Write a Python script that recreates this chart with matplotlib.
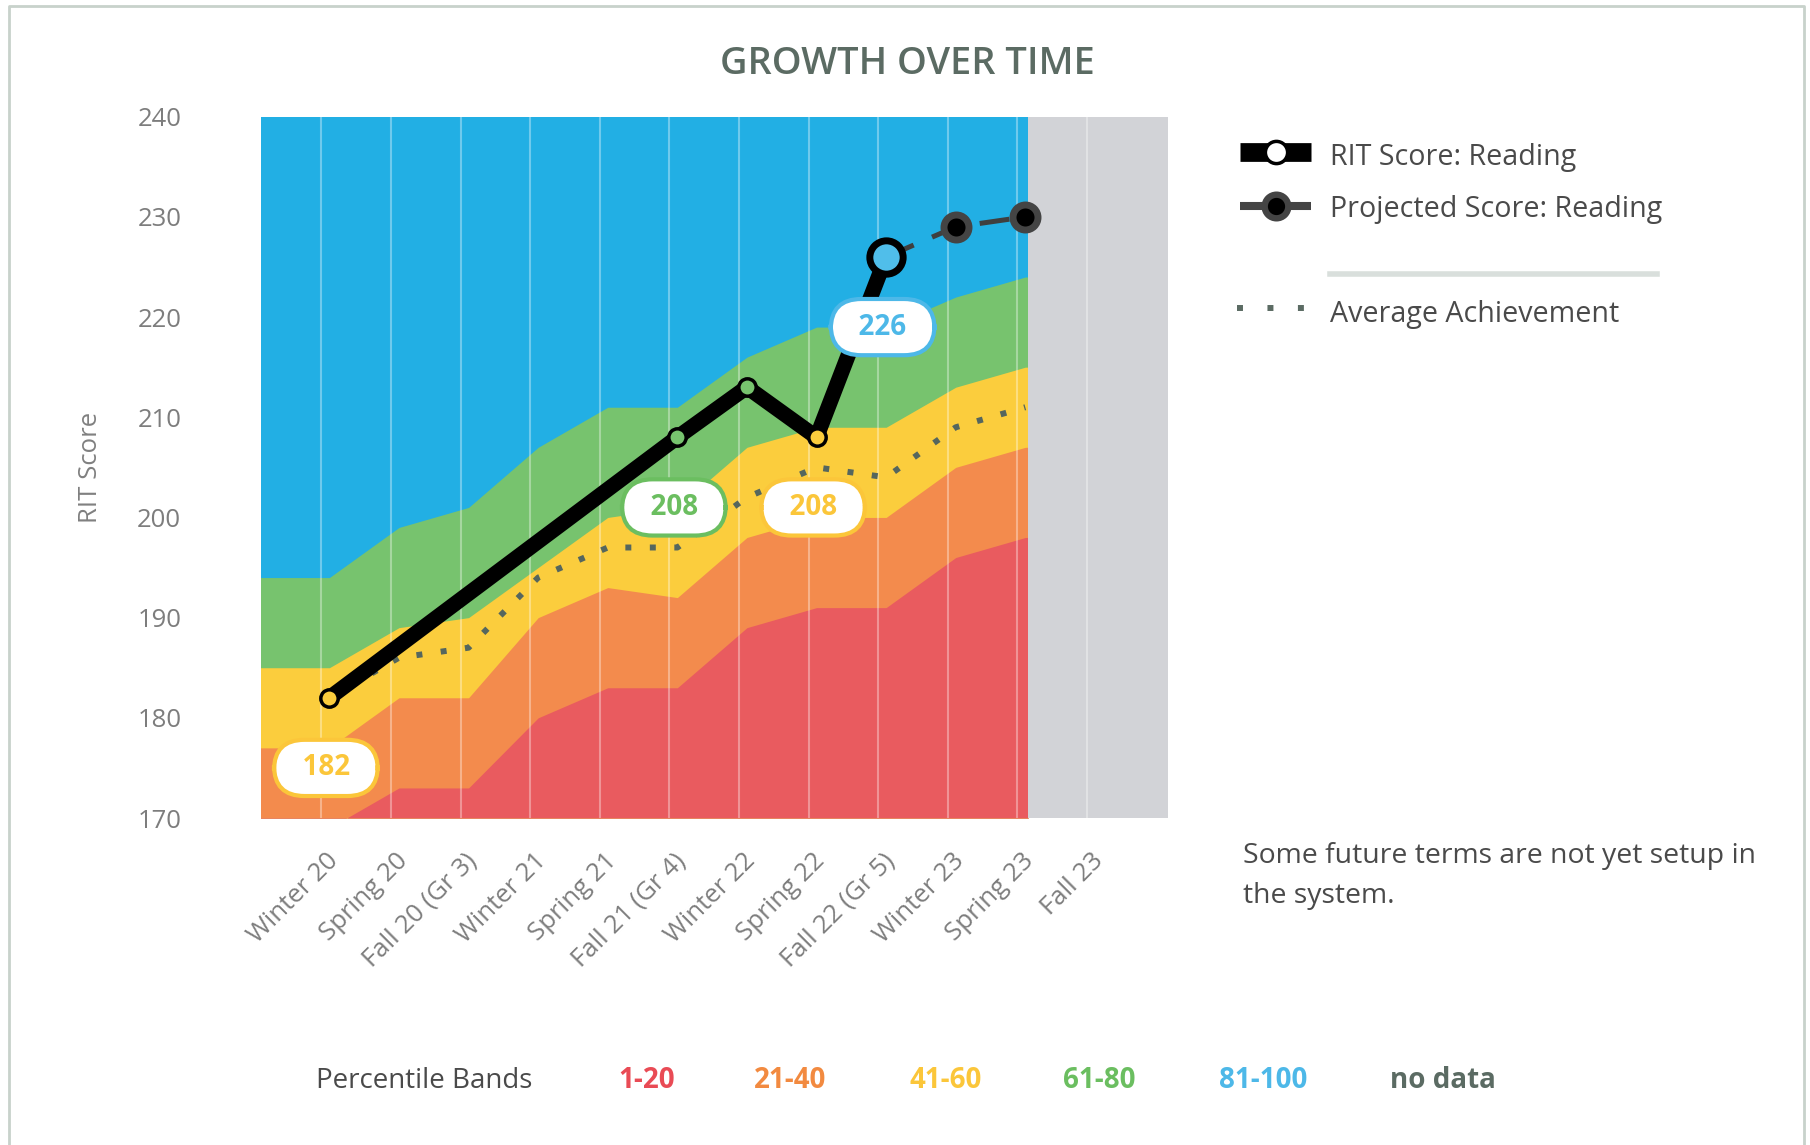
import numpy as np
import matplotlib
matplotlib.use("Agg")
import matplotlib.pyplot as plt
from matplotlib.lines import Line2D
from matplotlib.transforms import ScaledTranslation

plt.rcParams["font.family"] = ["Open Sans", "DejaVu Sans"]

terms = ["Winter 20", "Spring 20", "Fall 20 (Gr 3)", "Winter 21", "Spring 21",
         "Fall 21 (Gr 4)", "Winter 22", "Spring 22", "Fall 22 (Gr 5)",
         "Winter 23", "Spring 23", "Fall 23"]

# upper edge of each percentile band, Winter 20 .. Spring 23 (Fall 23 has no norms)
p20 = [169, 173, 173, 180, 183, 183, 189, 191, 191, 196, 198]
p40 = [177, 182, 182, 190, 193, 192, 198, 200, 200, 205, 207]
p60 = [185, 189, 190, 195, 200, 201, 207, 209, 209, 213, 215]
p80 = [194, 199, 201, 207, 211, 211, 216, 219, 219, 222, 224]

avg_achievement = [182, 186, 187, 194, 197, 197, 202, 205, 204, 209, 211]

rit_scores = [182, None, None, None, None, 208, 213, 208, 226, None, None, None]
projected = [None, None, None, None, None, None, None, None, 226, 229, 230, None]
labelled = [0, 5, 7, 8]

band_names = ["1-20", "21-40", "41-60", "61-80", "81-100"]
band_colors = ["#E95B5F", "#F38B4D", "#FBCD3D", "#77C36E", "#22AFE4"]
text_colors = ["#E94B55", "#F28A40", "#FBC63A", "#6BBE60", "#4DB8E8"]
nodata_color = "#D2D3D7"
slate = "#5B6B63"
grey_txt = "#7D7D7D"

W, H = 1810, 1145


def fx(x):
    return x / W


def fy(y):
    return 1 - y / H


def band_of(i, v):
    return sum(v > e for e in (p20[i], p40[i], p60[i], p80[i]))


fig = plt.figure(figsize=(W / 100, H / 100), dpi=100)
ax = fig.add_axes([fx(260.5), fy(818), fx(1168) - fx(260.5), fy(116.7) - fy(818)])

x_left, x_right, x_nodata = -0.99, 12.05, 10.04
grid_shift = 0.115  # the term lines sit a little left of the data points
ax.set_xlim(x_left, x_right)
ax.set_ylim(170, 240)
ax.set_facecolor(band_colors[4])
for s in ax.spines.values():
    s.set_visible(False)

# bands, stacked from the top down so there are no seams
n = len(p20)
xb = np.r_[x_left, np.arange(n), x_nodata]
for vals, c in zip([p80, p60, p40, p20], band_colors[3::-1]):
    v = np.asarray(vals, float)
    ax.fill_between(xb, 170, np.r_[v[0], v, v[-1]], color=c, lw=0, zorder=1)
ax.axvspan(x_nodata, x_right, color=nodata_color, lw=0, zorder=1.5)

for i in range(len(terms)):
    ax.axvline(i - grid_shift, color="white", alpha=0.35, lw=1.5, zorder=2)

ax.plot(range(len(avg_achievement)), avg_achievement, color="#55665E", lw=4.3,
        ls=(0, (1, 3.1)), zorder=3)

# projected
pi = [i for i, v in enumerate(projected) if v is not None]
pv = [projected[i] for i in pi]
ax.plot(pi, pv, color="#3F3F3F", lw=3.6, ls=(0, (6, 4)), zorder=3.5)
ax.plot(pi[1:], pv[1:], ls="none", marker="o", ms=18, mew=5, mec="#444444",
        mfc="black", zorder=5)

# RIT score
ri = [i for i, v in enumerate(rit_scores) if v is not None]
rv = [rit_scores[i] for i in ri]
ax.plot(ri, rv, color="black", lw=11, solid_joinstyle="round",
        solid_capstyle="round", zorder=4)
for i, v in zip(ri, rv):
    b = band_of(i, v)
    if i == ri[-1]:
        ax.plot(i, v, "o", ms=24, mew=5, mec="black", mfc="#50BEEA", zorder=5)
    else:
        ax.plot(i, v, "o", ms=12.5, mew=2.5, mec="black", mfc=band_colors[b], zorder=5)
    if i in labelled:
        ax.annotate(f"  {v}  ", (i, v), xytext=(-2.5, -50.5), textcoords="offset points",
                    ha="center", va="center", fontsize=20, fontweight="bold",
                    color=text_colors[b], zorder=6,
                    bbox=dict(boxstyle="round,pad=0.49,rounding_size=1.1",
                              fc="white", ec=text_colors[b], lw=3))

ax.set_xticks(range(len(terms)))
ax.set_xticklabels(terms, rotation=45, ha="right", va="top", rotation_mode="anchor",
                   fontsize=18.5, color=grey_txt)
ax.tick_params(axis="x", length=0, pad=22)
shift = ScaledTranslation(-0.04, 0, fig.dpi_scale_trans)
for lab in ax.get_xticklabels():
    lab.set_transform(lab.get_transform() + shift)

ax.set_yticks(range(170, 241, 10))
ax.tick_params(axis="y", length=0, pad=57, labelsize=18.5, labelcolor=grey_txt)

fig.text(fx(90), fy(467), "RIT Score", rotation=90, ha="center", va="center",
         fontsize=18.5, color="#808080")
fig.text(fx(907), fy(64), "GROWTH OVER TIME", ha="center", va="center",
         fontsize=27.3, fontweight="semibold", color=slate)

# legend on the right
leg_txt = "#4A4A4A"
leg_size = 20.6
fig.add_artist(Line2D([fx(1240), fx(1311)], [fy(152), fy(152)], transform=fig.transFigure,
                      color="black", lw=13.5, solid_capstyle="butt"))
fig.add_artist(Line2D([fx(1275.5)], [fy(152)], transform=fig.transFigure, marker="o",
                      ms=16, mew=2.5, mec="black", mfc="white"))
fig.text(fx(1330), fy(165), "RIT Score: Reading", fontsize=leg_size, color=leg_txt,
         va="baseline")

fig.add_artist(Line2D([fx(1240), fx(1311)], [fy(206), fy(206)], transform=fig.transFigure,
                      color="#444444", lw=5.8, solid_capstyle="butt"))
fig.add_artist(Line2D([fx(1275.5)], [fy(206)], transform=fig.transFigure, marker="o",
                      ms=17, mew=4.6, mec="#444444", mfc="black"))
fig.text(fx(1330), fy(217), "Projected Score: Reading", fontsize=leg_size, color=leg_txt,
         va="baseline")

fig.add_artist(Line2D([fx(1330), fx(1657)], [fy(274), fy(274)], transform=fig.transFigure,
                      color="#D9DFDC", lw=4))

fig.add_artist(Line2D([fx(1237), fx(1306)], [fy(308), fy(308)], transform=fig.transFigure,
                      color=slate, lw=4.3, ls=(0, (1, 4.1))))
fig.text(fx(1330), fy(321.7), "Average Achievement", fontsize=leg_size, color=leg_txt,
         va="baseline")

fig.text(fx(1243), fy(863), "Some future terms are not yet setup in", fontsize=20.4,
         color=leg_txt, va="baseline")
fig.text(fx(1243), fy(903), "the system.", fontsize=20.4, color=leg_txt, va="baseline")

# percentile band key along the bottom
fig.text(fx(315.7), fy(1088), "Percentile Bands", fontsize=20, color=leg_txt, va="baseline")
key_x = [618.6, 754, 909, 1063, 1218.6]
for x, name, c in zip(key_x, band_names, text_colors):
    fig.text(fx(x), fy(1088), name, fontsize=20, fontweight="bold", color=c, va="baseline")
fig.text(fx(1390), fy(1088), "no data", fontsize=20, fontweight="bold", color=slate,
         va="baseline")

# outer frame (open at the bottom)
fig.add_artist(Line2D([fx(9), fx(9), fx(1804), fx(1804)], [fy(H + 5), fy(6), fy(6), fy(H + 5)],
                      transform=fig.transFigure, color="#C8D2CB", lw=2))

fig.savefig("out.png", dpi=100, facecolor="white")
